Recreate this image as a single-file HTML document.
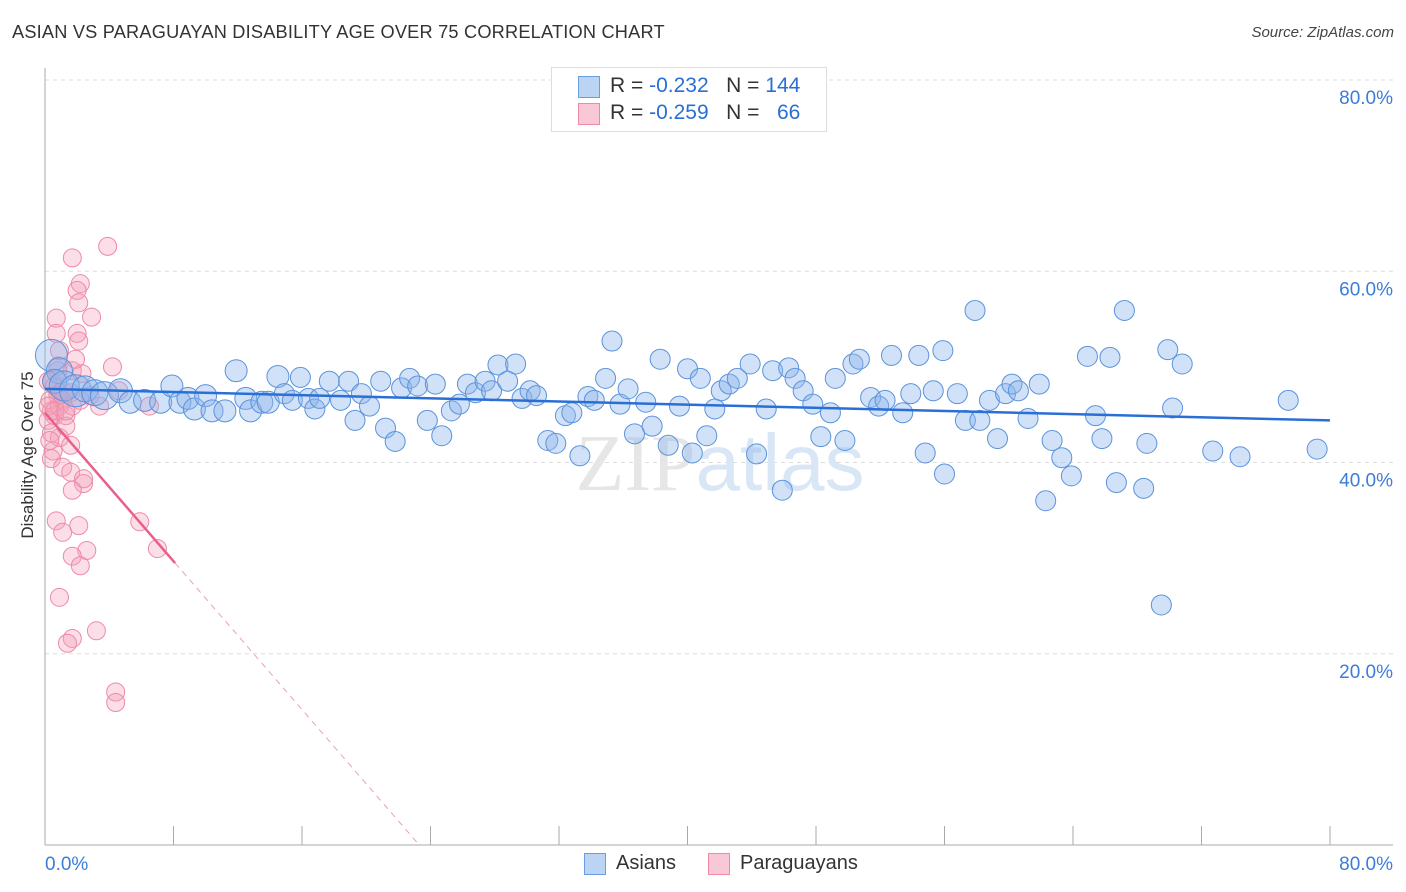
<!DOCTYPE html>
<html><head><meta charset="utf-8"><style>
body{margin:0;background:#fff;font-family:"Liberation Sans",sans-serif;}
#wrap{position:relative;width:1406px;height:892px;overflow:hidden;}
.t{position:absolute;white-space:nowrap;}
</style></head><body>
<div id="wrap">
<div class="t" style="left:12px;top:22px;font-size:18.2px;color:#333;letter-spacing:0.2px">ASIAN VS PARAGUAYAN DISABILITY AGE OVER 75 CORRELATION CHART</div>
<div class="t" style="right:12px;top:24px;font-size:15px;color:#444;font-style:italic">Source: ZipAtlas.com</div>
<svg id="svg" width="1406" height="892" style="position:absolute;left:0;top:0"></svg>
</div>
<script>
const xTicks=[0,80];
const yTicks=[20,40,60,80];
const asianX=[0.4,0.9,0.6,1.2,1.9,2.5,3.1,3.7,4.7,5.3,6.2,7.2,7.9,8.4,8.9,9.3,10.0,10.4,11.2,11.9,12.5,12.8,13.5,13.9,14.5,14.9,15.4,15.9,16.4,16.8,17.1,17.7,18.4,18.9,19.3,19.7,20.2,20.9,21.2,21.8,22.2,22.7,23.2,23.8,24.3,24.7,25.3,25.8,26.3,26.8,27.4,27.8,28.2,28.8,29.3,29.7,30.2,30.6,31.3,31.8,32.4,32.8,33.3,33.8,34.2,34.9,35.3,35.8,36.3,36.7,37.4,37.8,38.3,38.8,39.5,40.0,40.3,40.8,41.2,41.7,42.1,42.6,43.1,43.9,44.3,44.9,45.3,45.9,46.3,46.7,47.2,47.8,48.3,48.9,49.2,49.8,50.3,50.7,51.4,51.9,52.3,52.7,53.4,53.9,54.4,54.8,55.3,55.9,56.0,56.8,57.3,57.9,58.2,58.8,59.3,59.8,60.2,60.6,61.2,61.9,62.3,62.7,63.3,63.9,64.9,65.4,65.8,66.3,66.7,67.2,68.6,68.4,69.5,69.9,70.2,70.8,72.7,74.4,77.4,79.2];
const asianY=[51.2,49.6,48.5,48.0,47.5,47.7,47.3,47.0,47.5,46.3,46.5,46.3,48.0,46.3,46.7,45.6,47.0,45.4,45.4,49.6,46.7,45.4,46.3,46.3,49.0,47.2,46.5,48.9,46.7,45.6,46.7,48.5,46.5,48.5,44.4,47.2,45.9,48.5,43.6,42.2,47.8,48.8,48.0,44.4,48.2,42.8,45.4,46.1,48.2,47.3,48.5,47.5,50.2,48.5,50.3,46.7,47.5,47.0,42.3,42.0,44.9,45.2,40.7,46.9,46.5,48.8,52.7,46.1,47.7,43.0,46.3,43.8,50.8,41.8,45.9,49.8,41.0,48.8,42.8,45.6,47.5,48.2,48.8,50.3,40.9,45.6,49.6,37.1,49.9,48.8,47.5,46.1,42.7,45.2,48.8,42.3,50.3,50.8,46.8,45.9,46.5,51.2,45.2,47.2,51.2,41.0,47.5,51.7,38.8,47.2,44.4,55.9,44.4,46.5,42.5,47.2,48.2,47.5,44.6,48.2,36.0,42.3,40.5,38.6,51.1,44.9,42.5,51.0,37.9,55.9,42.0,37.3,25.1,51.8,45.7,50.3,41.2,40.6,46.5,41.4];
const asianSize=[16,13,12,15,16,13,13,14,12,11,11,11,11,11,11,11,11,11,11,11,11,11,11,11,11];
const paraX=[3.9,1.7,2.2,2.0,2.1,2.9,0.7,0.7,2.0,2.1,0.9,4.2,0.8,1.7,2.3,0.4,0.9,0.3,0.4,0.6,0.9,0.2,0.4,0.9,1.6,0.5,0.4,1.1,1.6,2.4,2.4,1.7,5.9,0.7,1.1,2.1,7.0,2.6,1.7,2.2,0.9,3.2,1.7,1.4,4.4,4.4,0.2,0.6,1.1,1.6,0.8,1.1,0.2,0.6,1.3,1.7,2.2,2.8,3.4,4.6,6.5,1.3,0.3,1.9,0.8,1.3];
const paraY=[62.6,61.4,58.7,58.0,56.7,55.2,55.1,53.5,53.5,52.7,51.7,50.0,50.1,49.6,49.3,48.5,47.3,46.5,45.4,44.9,45.9,44.4,43.1,42.6,41.8,41.2,40.4,39.5,39.0,37.8,38.3,37.1,33.8,33.9,32.7,33.4,31.0,30.8,30.2,29.2,25.9,22.4,21.6,21.1,16.0,14.9,48.5,48.0,47.5,47.3,47.0,46.5,45.9,45.4,44.9,45.9,46.5,47.0,45.9,47.5,45.9,43.8,42.3,50.8,49.6,45.4];
const asianTrend=[47.7,44.4];
const paraTrend=[45.2,-1.94,8.1];
const NS='http://www.w3.org/2000/svg';
const svg=document.getElementById('svg');
const X0=45,X1=1330,YT=80,YB=845;
const sx=v=>X0+(v-0)/80*(X1-X0);
const sy=v=>YB-v/80*(YB-YT);
function mk(tag,attrs,parent){const e=document.createElementNS(NS,tag);for(const k in attrs)e.setAttribute(k,attrs[k]);(parent||svg).appendChild(e);return e;}
yTicks.forEach(v=>{
 const l=mk('line',{x1:X0,x2:1393,y1:sy(v),y2:sy(v),stroke:'#ddd','stroke-dasharray':'4,4'});
 
 
 const t=mk('text',{x:1393,y:sy(v)+24,'text-anchor':'end','font-size':19,fill:'#3b7dd8','font-family':'Liberation Sans'});
 t.textContent=v.toFixed(1)+'%';
 
 
});
const ax=mk('line',{x1:X0,x2:X0,y1:68,y2:YB,stroke:'#aaa'});


const bx=mk('line',{x1:X0,x2:1393,y1:YB,y2:YB,stroke:'#aaa'});


for(let i=0;i<=10;i++){const v=i*8;const tk=mk('line',{x1:sx(v),x2:sx(v),y1:826,y2:YB,stroke:'#aaa'});
 
 }
xTicks.forEach((v,i)=>{const t=mk('text',{x:i==0?45:1393,y:870,'text-anchor':i==0?'start':'end','font-size':19,fill:'#3b7dd8','font-family':'Liberation Sans'});
 t.textContent=v.toFixed(1)+'%';
 
 });
const wm=mk('text',{x:720,y:490,'text-anchor':'middle','font-size':80});


wm.innerHTML='<tspan font-family="Liberation Serif" fill="#e6e6e6">ZIP</tspan><tspan font-family="Liberation Sans" fill="#d8e6f6">atlas</tspan>';
paraX.forEach((x,i)=>{const c=mk('circle',{cx:sx(x),cy:sy(paraY[i]),r:9,fill:'rgba(244,160,185,0.35)',stroke:'#ee8aa8','stroke-width':1});
 
 });
asianX.forEach((x,i)=>{const c=mk('circle',{cx:sx(x),cy:sy(asianY[i]),r:(asianSize[i]||10),fill:'rgba(140,180,235,0.4)',stroke:'#5b93dc','stroke-width':1});
 
 });
const at=mk('line',{x1:sx(0),y1:sy(asianTrend[0]),x2:sx(80),y2:sy(asianTrend[1]),stroke:'#2a6fd6','stroke-width':2.5});


const pEnd=paraTrend[2], pZero=-paraTrend[0]/paraTrend[1];
const pt=mk('line',{x1:sx(0),y1:sy(paraTrend[0]),x2:sx(pEnd),y2:sy(paraTrend[0]+paraTrend[1]*pEnd),stroke:'#e8608a','stroke-width':2.5});


const pd=mk('line',{x1:sx(pEnd),y1:sy(paraTrend[0]+paraTrend[1]*pEnd),x2:sx(pZero),y2:sy(0),stroke:'#eaa0b8','stroke-width':1,'stroke-dasharray':'6,5'});


const yt=mk('text',{x:33,y:455,'text-anchor':'middle','font-size':17,fill:'#333',transform:'rotate(-90 33 455)','font-family':'Liberation Sans'});
yt.textContent='Disability Age Over 75';


</script>
<div class="t" style="left:551px;top:67px;width:274px;height:63px;border:1px solid #ddd;background:#fff;font-size:21px;color:#333">
 <div class="t" style="left:26px;top:8px;width:20px;height:20px;background:#bcd4f4;border:1px solid #6a9ee0"></div>
 <div class="t" style="left:58px;top:6px">R = <span style="color:#2a6fd6">-0.232</span>&nbsp;&nbsp;&nbsp;N = <span style="color:#2a6fd6">144</span></div>
 <div class="t" style="left:26px;top:35px;width:20px;height:20px;background:#f9c8d6;border:1px solid #ee8aa8"></div>
 <div class="t" style="left:58px;top:33px">R = <span style="color:#2a6fd6">-0.259</span>&nbsp;&nbsp;&nbsp;N = &nbsp;&nbsp;<span style="color:#2a6fd6">66</span></div>
</div>
<div class="t" style="left:584px;top:853px;width:20px;height:20px;background:#bcd4f4;border:1px solid #6a9ee0"></div>
<div class="t" style="left:616px;top:852px;font-size:20px;color:#333">Asians</div>
<div class="t" style="left:708px;top:853px;width:20px;height:20px;background:#f9c8d6;border:1px solid #ee8aa8"></div>
<div class="t" style="left:740px;top:852px;font-size:20px;color:#333">Paraguayans</div>
</body></html>
